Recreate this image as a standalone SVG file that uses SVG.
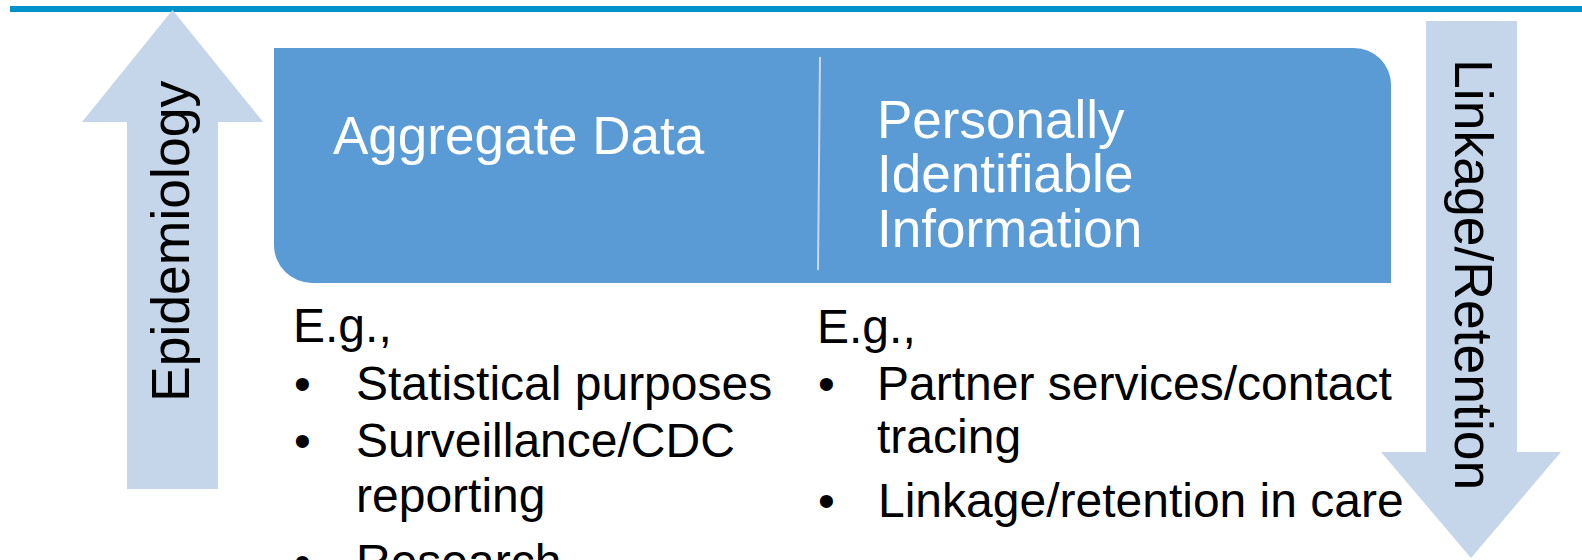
<svg xmlns="http://www.w3.org/2000/svg" width="1582" height="560" viewBox="0 0 1582 560">
  <style>
    .arrow { fill: #C5D5EA; }
    .box { fill: #5B9BD5; }
    .title { font-family: "Liberation Sans", Arial, sans-serif; font-size: 53px; fill: #FFFFFF; }
    .vert { font-family: "Liberation Sans", Arial, sans-serif; font-size: 53.5px; fill: #000000; }
    .body { font-family: "Liberation Sans", Arial, sans-serif; font-size: 48px; fill: #000000; }
  </style>
  <rect x="0" y="0" width="1582" height="560" fill="#FFFFFF"/>
  <rect id="top-rule" x="10" y="6" width="1572" height="6" fill="#0092C8"/>

  <g id="epidemiology-arrow">
    <polygon class="arrow" points="172.5,10 263,122 218,122 218,489 127,489 127,122 82,122"/>
    <text class="vert" transform="translate(189,402) rotate(-90)">Epidemiology</text>
  </g>

  <g id="linkage-arrow">
    <polygon class="arrow" points="1426,21 1517,21 1517,452 1561,452 1471,558 1381,452 1426,452"/>
    <text class="vert" transform="translate(1455,59) rotate(90)">Linkage/Retention</text>
  </g>

  <g id="header-box">
    <path class="box" d="M274,48 H1354 A37,37 0 0 1 1391,85 V283 H312 A38,38 0 0 1 274,245 Z"/>
    <line x1="820" y1="57" x2="818" y2="270" stroke="#C9D8EE" stroke-width="2"/>
    <text class="title" x="333" y="154">Aggregate Data</text>
    <text class="title" x="877" y="137.5">Personally</text>
    <text class="title" x="877" y="192">Identifiable</text>
    <text class="title" x="877" y="246.5">Information</text>
  </g>

  <g id="aggregate-list">
    <text class="body" x="293" y="342">E.g.,</text>
    <text class="body" x="294" y="400">•</text>
    <text class="body" x="356" y="400">Statistical purposes</text>
    <text class="body" x="294" y="457">•</text>
    <text class="body" x="356" y="457">Surveillance/CDC</text>
    <text class="body" x="356" y="512">reporting</text>
    <text class="body" x="294" y="578">•</text>
    <text class="body" x="356" y="578">Research</text>
  </g>

  <g id="pii-list">
    <text class="body" x="817" y="343">E.g.,</text>
    <text class="body" x="818" y="400">•</text>
    <text class="body" x="877" y="400">Partner services/contact</text>
    <text class="body" x="877" y="453">tracing</text>
    <text class="body" x="818" y="517">•</text>
    <text class="body" x="878" y="517">Linkage/retention in care</text>
  </g>

  <g id="connectors"/>
</svg>
